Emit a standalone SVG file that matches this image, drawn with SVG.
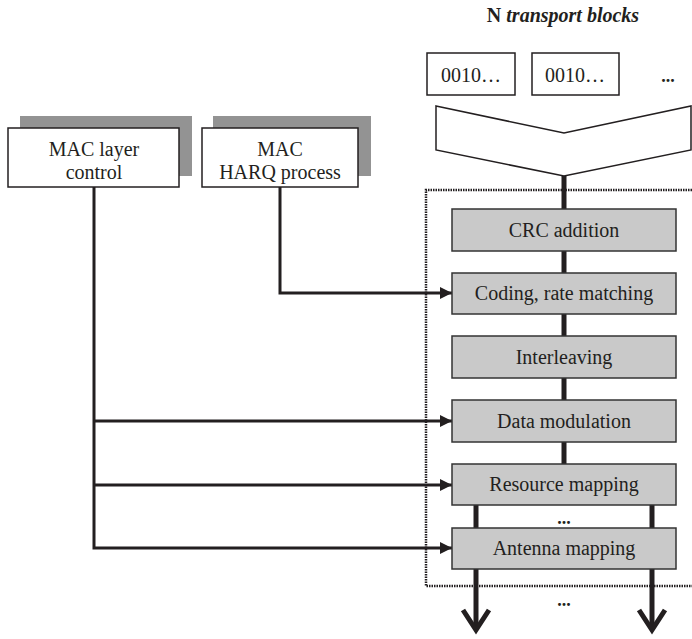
<svg xmlns="http://www.w3.org/2000/svg" width="692" height="639" viewBox="0 0 692 639">
<defs>
<style>
.t{font-family:"Liberation Serif","Times New Roman",serif;font-size:20px;fill:#231f20;text-anchor:middle}
.box{fill:#fff;stroke:#231f20;stroke-width:1.5}
.gbox{fill:#c9c9c9;stroke:#333;stroke-width:1.5}
.shadow{fill:#939393}
.thick{stroke:#231f20;stroke-width:5;fill:none}
.conn{stroke:#231f20;stroke-width:3;fill:none}
.dots{font-family:"Liberation Serif",serif;font-size:18px;font-weight:bold;fill:#231f20;text-anchor:middle}
</style>
<marker id="ah" markerWidth="12" markerHeight="12" refX="12" refY="6" orient="auto" markerUnits="userSpaceOnUse">
<path d="M0,0 L12,6 L0,12 Z" fill="#231f20"/>
</marker>
</defs>
<rect width="692" height="639" fill="#fff"/>

<text x="563" y="22" class="t" style="font-weight:bold">N <tspan font-style="italic">transport blocks</tspan></text>

<g id="tb1"><rect class="box" x="427" y="53" width="88" height="42"/><text x="471" y="82" class="t">0010…</text></g>
<g id="tb2"><rect class="box" x="532" y="53" width="87" height="42"/><text x="575" y="82" class="t">0010…</text></g>
<text x="668" y="82" class="dots">...</text>

<g id="connectors">
<line class="thick" x1="564" y1="176" x2="564" y2="466"/>
<line class="thick" x1="476" y1="505" x2="476" y2="630"/>
<line class="thick" x1="652" y1="505" x2="652" y2="630"/>
<polyline class="thick" points="463,610 476,630 489,610" stroke-width="7" stroke-linejoin="miter"/>
<polyline class="thick" points="639,610 652,630 665,610" stroke-width="7" stroke-linejoin="miter"/>
<path class="conn" d="M94,187 V548 H452" marker-end="url(#ah)"/>
<path class="conn" d="M94,421 H452" marker-end="url(#ah)"/>
<path class="conn" d="M94,485 H452" marker-end="url(#ah)"/>
<path class="conn" d="M280,187 V293 H452" marker-end="url(#ah)"/>
</g>

<g id="merge"><polygon class="box" points="436,106 564,133 691,106 691,150 564,176 436,150"/></g>

<path d="M692,190 H426 V586 H692" fill="none" stroke="#231f20" stroke-width="2.5" stroke-dasharray="1.5,1"/>

<g id="mac-control">
<rect class="shadow" x="20" y="116" width="172" height="60"/>
<rect class="box" x="8" y="128" width="171" height="59"/>
<text x="94" y="156" class="t">MAC layer</text>
<text x="94" y="179" class="t">control</text>
</g>
<g id="mac-harq">
<rect class="shadow" x="213" y="116" width="158" height="60"/>
<rect class="box" x="202" y="128" width="156" height="59"/>
<text x="280" y="156" class="t">MAC</text>
<text x="280" y="179" class="t">HARQ process</text>
</g>

<g id="crc"><rect class="gbox" x="452" y="209" width="224" height="42"/><text x="564" y="237" class="t">CRC addition</text></g>
<g id="coding"><rect class="gbox" x="452" y="273" width="224" height="41"/><text x="564" y="300" class="t">Coding, rate matching</text></g>
<g id="interleaving"><rect class="gbox" x="452" y="336" width="224" height="42"/><text x="564" y="364" class="t">Interleaving</text></g>
<g id="datamod"><rect class="gbox" x="452" y="400" width="224" height="42"/><text x="564" y="428" class="t">Data modulation</text></g>
<g id="resource"><rect class="gbox" x="452" y="464" width="224" height="41"/><text x="564" y="491" class="t">Resource mapping</text></g>
<g id="antenna"><rect class="gbox" x="452" y="528" width="224" height="41"/><text x="564" y="555" class="t">Antenna mapping</text></g>

<text x="564" y="524" class="dots">...</text>
<text x="564" y="606" class="dots">...</text>
</svg>
